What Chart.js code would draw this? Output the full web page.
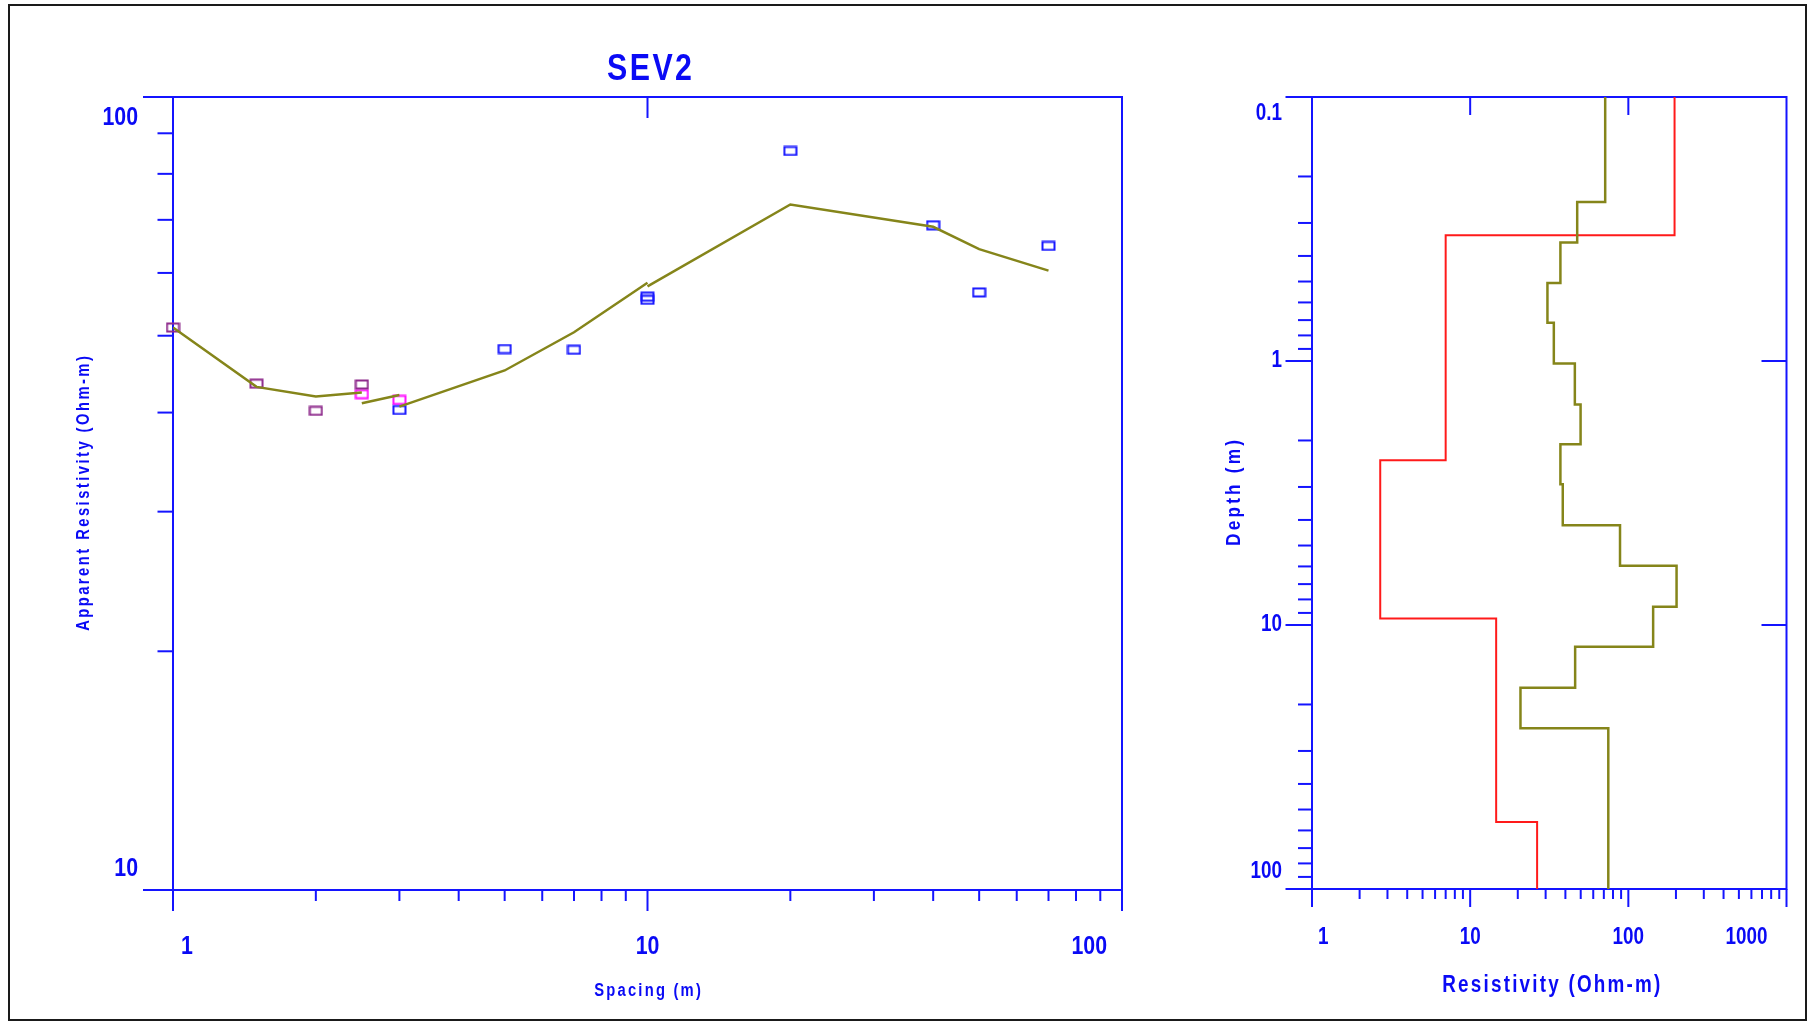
<!DOCTYPE html>
<html>
<head>
<meta charset="utf-8">
<title>SEV2</title>
<script src="https://cdn.jsdelivr.net/npm/chart.js@4.4.1/dist/chart.umd.min.js"></script>
<style>
  html, body { margin: 0; padding: 0; background: #ffffff; }
  #wrap { position: relative; width: 1811px; height: 1022px; overflow: hidden; }
  #wrap canvas { position: absolute; left: 0; top: 0; }
</style>
</head>
<body>
<div id="wrap">
  <canvas id="curve" width="1811" height="1022"></canvas>
  <canvas id="model" width="1811" height="1022"></canvas>
</div>
<script>
// ---- Field data: apparent resistivity (Ohm-m) against spacing AB/2 (m), one list per segment ----
const spacingSeg1 = [1, 1.5, 2, 2.5];
const rhoSeg1     = [51.2, 43.5, 40.2, 43.4];
const spacingSeg2 = [2.5, 3];
const rhoSeg2     = [42.2, 41.5];
const spacingSeg3 = [3, 5, 7, 10, 10, 20, 40, 50, 70];
const rhoSeg3     = [40.3, 48.1, 48.0, 56.0, 55.5, 85.5, 68.9, 56.7, 64.9];

// ---- Calculated curve, drawn piece by piece ----
const fitSpacingA = [1, 1.5, 2, 2.5];
const fitRhoA     = [51.2, 43.1, 41.9, 42.4];
const fitSpacingB = [2.5, 3];
const fitRhoB     = [41.1, 42.1];
const fitSpacingC = [3, 5, 7, 10];
const fitRhoC     = [40.7, 45.2, 50.5, 58.3];
const fitSpacingD = [10, 20, 40, 50, 70];
const fitRhoD     = [57.7, 73.2, 68.6, 64.3, 60.4];

// ---- Layered model: resistivity of each layer (Ohm-m) and depth of each layer base (m) ----
const layerRes   = [196, 7.0, 2.7, 14.6, 26.5];
const layerBase  = [0.334, 2.375, 9.44, 55.7];

// ---- Smooth model ----
const smoothRes  = [71.4, 47.5, 37.2, 30.8, 33.8, 45.9, 49.9, 37.2, 38.5, 88.6, 201.8, 143.5, 46.1, 20.8, 74.7];
const smoothBase = [0.25, 0.356, 0.506, 0.717, 1.022, 1.462, 2.066, 2.93, 4.19, 5.97, 8.53, 12.1, 17.3, 24.6];

// ---- Axis ranges and tick labels ----
const spacingRange = [1, 100];
const rhoRange     = [10, 100];
const resRange     = [1, 1000];
const depthRange   = [0.1, 100];
const spacingTickLabels = ['1', '10', '100'];
const rhoTickLabels     = ['10', '100'];
const resTickLabels     = ['1', '10', '100', '1000'];
const depthTickLabels   = ['0.1', '1', '10', '100'];

// ---- Style ----
const BLUE = '#1414ff';
const TEXT_BLUE = '#0a0af5';
const OLIVE = '#85851a';
const RED = '#ff1a1a';
const FONT = "'Liberation Sans',Arial,sans-serif";
const SQUEEZE = 0.82;   // condensed lettering

const toPoints = (xs, ys) => xs.map((x, i) => ({ x: x, y: ys[i] }));

// step profile: starts at the top of the section, steps down at each layer base
function profile(res, base, top, bottom) {
  const pts = [{ x: res[0], y: top }];
  base.forEach((d, i) => pts.push({ x: res[i + 1], y: d }));
  pts.push({ x: res[res.length - 1], y: bottom });
  return pts;
}

// open rectangle marker
function marker(color) {
  const c = document.createElement('canvas');
  c.width = 15; c.height = 11;
  const g = c.getContext('2d');
  g.strokeStyle = color;
  g.lineWidth = 2;
  g.strokeRect(1.5, 1.5, 12, 8);
  return c;
}

// decade subdivisions 2..9 inside a log range
function minorValues(min, max) {
  const out = [];
  for (let p = Math.floor(Math.log10(min)); p < Math.ceil(Math.log10(max)); p++) {
    for (let k = 2; k <= 9; k++) {
      const v = k * Math.pow(10, p);
      if (v > min && v < max) out.push(v);
    }
  }
  return out;
}

function seg(ctx, x1, y1, x2, y2) {
  ctx.beginPath(); ctx.moveTo(x1, y1); ctx.lineTo(x2, y2); ctx.stroke();
}

// condensed, optionally letter-spaced and rotated text
function label(ctx, text, x, y, font, align, spacing, angle) {
  ctx.save();
  ctx.font = font;
  ctx.fillStyle = TEXT_BLUE;
  ctx.textAlign = align;
  ctx.textBaseline = 'middle';
  ctx.letterSpacing = (spacing || 0) + 'px';
  ctx.translate(x, y);
  if (angle) ctx.rotate(angle);
  ctx.scale(SQUEEZE, 1);
  ctx.fillText(text, align === 'center' ? (spacing || 0) / 2 : 0, 0);
  ctx.restore();
}

// axes frame, tick marks, tick labels and titles of one panel
function frame(o) {
  return {
    id: 'frame',
    beforeDatasetsDraw(chart) {
      const ctx = chart.ctx;
      const a = chart.chartArea;
      const sx = chart.scales.x, sy = chart.scales.y;
      ctx.save();
      if (o.border) {
        ctx.strokeStyle = '#1a1a1a';
        ctx.lineWidth = 2;
        ctx.strokeRect(9, 5, 1797, 1015);
      }
      ctx.strokeStyle = BLUE;
      ctx.lineWidth = 2;
      ctx.lineCap = 'butt';
      ctx.strokeRect(a.left, a.top, a.right - a.left, a.bottom - a.top);

      // bottom axis
      o.xMajor.forEach(v => { const p = sx.getPixelForValue(v); seg(ctx, p, a.bottom, p, a.bottom + o.xMajorLen); });
      minorValues(sx.min, sx.max).forEach(v => { const p = sx.getPixelForValue(v); seg(ctx, p, a.bottom, p, a.bottom + o.xMinorLen); });
      // top axis
      o.xTop.forEach(v => { const p = sx.getPixelForValue(v); seg(ctx, p, a.top, p, a.top + o.xMajorLen); });
      // left axis
      o.yMajor.forEach(v => { const p = sy.getPixelForValue(v); seg(ctx, a.left - o.yMajorLen, p, a.left, p); });
      minorValues(sy.min, sy.max).forEach(v => { const p = sy.getPixelForValue(v); seg(ctx, a.left - o.yMinorLen, p, a.left, p); });
      // right axis
      o.yRight.forEach(v => { const p = sy.getPixelForValue(v); seg(ctx, a.right - o.yRightLen, p, a.right, p); });
      ctx.restore();

      // tick labels
      const tickFont = 'bold ' + o.tickSize + 'px ' + FONT;
      const nx = o.xMajor.length;
      o.xMajor.forEach((v, i) => {
        let p = sx.getPixelForValue(v);
        let align = 'center';
        if (i === 0) { align = 'left'; p += o.xFirstShift; }
        if (i === nx - 1) { align = 'right'; p -= o.xLastShift; }
        label(ctx, o.xLabels[i], p, a.bottom + o.xLabelGap, tickFont, align);
      });
      o.yMajor.forEach((v, i) => {
        let p = sy.getPixelForValue(v);
        if (Math.abs(p - a.top) < 1) p += o.yEdgeShift;
        if (Math.abs(p - a.bottom) < 1) p -= o.yEdgeShift;
        label(ctx, o.yLabels[i], a.left - o.yLabelGap, p, tickFont, 'right');
      });

      // titles
      const cx = (a.left + a.right) / 2, cy = (a.top + a.bottom) / 2;
      if (o.title) label(ctx, o.title, cx + 2, a.top - 27, 'bold 37px ' + FONT, 'center', 3);
      label(ctx, o.xTitle, cx + o.xTitleDx, a.bottom + o.xTitleGap, 'bold ' + o.xTitleSize + 'px ' + FONT, 'center', o.xTitleSpacing);
      label(ctx, o.yTitle, a.left - o.yTitleGap, cy, 'bold ' + o.yTitleSize + 'px ' + FONT, 'center', o.yTitleSpacing, -Math.PI / 2);
    }
  };
}

const common = {
  responsive: false,
  animation: false,
  devicePixelRatio: 1,
  events: [],
  plugins: { legend: { display: false }, tooltip: { enabled: false }, title: { display: false } }
};

// ---- Left panel: sounding curve ----
new Chart(document.getElementById('curve'), {
  type: 'scatter',
  data: {
    datasets: [
      { data: toPoints(fitSpacingA, fitRhoA), showLine: true, borderColor: OLIVE, borderWidth: 2.5, pointRadius: 0 },
      { data: toPoints(fitSpacingB, fitRhoB), showLine: true, borderColor: OLIVE, borderWidth: 2.5, pointRadius: 0 },
      { data: toPoints(fitSpacingC, fitRhoC), showLine: true, borderColor: OLIVE, borderWidth: 2.5, pointRadius: 0 },
      { data: toPoints(fitSpacingD, fitRhoD), showLine: true, borderColor: OLIVE, borderWidth: 2.5, pointRadius: 0 },
      { data: toPoints(spacingSeg1, rhoSeg1), pointStyle: marker('#8e2b8c'), pointRadius: 6, clip: false },
      { data: toPoints(spacingSeg2, rhoSeg2), pointStyle: marker('#ff10ff'), pointRadius: 6, clip: false },
      { data: toPoints(spacingSeg3, rhoSeg3), pointStyle: marker('#1818ff'), pointRadius: 6, clip: false }
    ]
  },
  options: Object.assign({}, common, {
    layout: { padding: { left: 173, top: 97, right: 689, bottom: 132 } },
    scales: {
      x: { type: 'logarithmic', min: spacingRange[0], max: spacingRange[1], display: false },
      y: { type: 'logarithmic', min: rhoRange[0], max: rhoRange[1], display: false }
    }
  }),
  plugins: [frame({
    border: true,
    xMajor: [1, 10, 100], xLabels: spacingTickLabels, xTop: [10],
    xMajorLen: 21, xMinorLen: 11,
    yMajor: [10, 100], yLabels: rhoTickLabels, yRight: [], yRightLen: 0,
    yMajorLen: 30, yMinorLen: 15.5,
    tickSize: 26, xLabelGap: 57, xFirstShift: 8, xLastShift: 15,
    yLabelGap: 35, yEdgeShift: 21,
    title: 'SEV2',
    xTitle: 'Spacing (m)', xTitleGap: 101, xTitleDx: 0, xTitleSize: 18, xTitleSpacing: 2.7,
    yTitle: 'Apparent Resistivity (Ohm-m)', yTitleGap: 89, yTitleSize: 18, yTitleSpacing: 3
  })]
});

// ---- Right panel: resistivity models against depth ----
new Chart(document.getElementById('model'), {
  type: 'scatter',
  data: {
    datasets: [
      { data: profile(smoothRes, smoothBase, depthRange[0], depthRange[1]), showLine: true, stepped: 'after',
        borderColor: OLIVE, borderWidth: 2.5, pointRadius: 0 },
      { data: profile(layerRes, layerBase, depthRange[0], depthRange[1]), showLine: true, stepped: 'after',
        borderColor: RED, borderWidth: 2, pointRadius: 0 }
    ]
  },
  options: Object.assign({}, common, {
    layout: { padding: { left: 1312, top: 97, right: 24.5, bottom: 133 } },
    scales: {
      x: { type: 'logarithmic', min: resRange[0], max: resRange[1], display: false },
      y: { type: 'logarithmic', min: depthRange[0], max: depthRange[1], reverse: true, display: false }
    }
  }),
  plugins: [frame({
    border: false,
    xMajor: [1, 10, 100, 1000], xLabels: resTickLabels, xTop: [10, 100],
    xMajorLen: 18, xMinorLen: 10,
    yMajor: [0.1, 1, 10, 100], yLabels: depthTickLabels, yRight: [1, 10], yRightLen: 25,
    yMajorLen: 26.5, yMinorLen: 14,
    tickSize: 23, xLabelGap: 49, xFirstShift: 6, xLastShift: 19,
    yLabelGap: 30, yEdgeShift: 17,
    title: null,
    xTitle: 'Resistivity (Ohm-m)', xTitleGap: 97, xTitleDx: 2, xTitleSize: 23, xTitleSpacing: 2.7,
    yTitle: 'Depth (m)', yTitleGap: 78, yTitleSize: 21, yTitleSpacing: 3.9
  })]
});
</script>
</body>
</html>
